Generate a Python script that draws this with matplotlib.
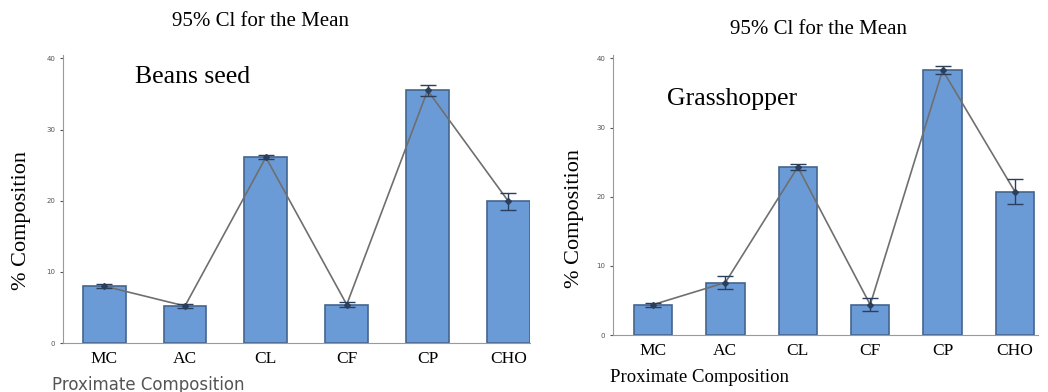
import matplotlib
matplotlib.use("Agg")
import matplotlib.pyplot as plt

categories = ["MC", "AC", "CL", "CF", "CP", "CHO"]

beans_mean = [8.0, 5.2, 26.1, 5.4, 35.5, 19.9]
beans_ci = [0.3, 0.3, 0.3, 0.3, 0.8, 1.2]

hopper_mean = [4.4, 7.6, 24.3, 4.4, 38.3, 20.7]
hopper_ci = [0.3, 1.0, 0.4, 0.9, 0.6, 1.8]

bar_color = "#6b9bd6"
edge_color = "#44658f"
serif = "Liberation Serif"

W, H = 1048, 392
fig = plt.figure(figsize=(10.48, 3.92), dpi=100)


def draw(ax, means, ci, xlim):
    x = range(len(categories))
    ax.bar(x, means, width=0.53, color=bar_color, edgecolor=edge_color, linewidth=1.2, zorder=2)
    ax.plot(x, means, color="#6f6f6f", linewidth=1.2, zorder=3)
    ax.errorbar(x, means, yerr=ci, fmt="D", markersize=3, color="#2b3f5c",
                ecolor="#2b3f5c", elinewidth=1, capsize=6, capthick=1, zorder=4)
    ax.set_xlim(*xlim)
    ax.set_ylim(0, 40.5)
    ax.set_yticks([0, 10, 20, 30, 40])
    ax.set_xticks(list(x))
    ax.set_xticklabels(categories, fontfamily=serif, fontsize=12.5)
    ax.tick_params(axis="y", labelsize=5, colors="#555555", length=2)
    ax.tick_params(axis="x", length=0, pad=6)
    for s in ["top", "right"]:
        ax.spines[s].set_visible(False)
    for s in ["left", "bottom"]:
        ax.spines[s].set_color("#9a9a9a")


# left panel: beans seed
ax1 = fig.add_axes([0.060, 0.125, 0.446, 0.735])
draw(ax1, beans_mean, beans_ci, (-0.51, 5.27))
ax1.text(0.154, 0.903, "Beans seed", transform=ax1.transAxes, fontfamily=serif,
         fontsize=18.5, va="baseline")
fig.text(261 / W, 1 - 22 / H, "95% Cl for the Mean", fontfamily=serif, fontsize=15,
         ha="center", va="center")
fig.text(22 / W, 1 - 220 / H, "% Composition", fontfamily=serif, fontsize=16,
         rotation=90, ha="center", va="center")
fig.text(52 / W, 1 - 385 / H, "Proximate Composition", fontfamily="DejaVu Sans",
         fontsize=12, color="#555555", ha="left", va="center")

# right panel: grasshopper
ax2 = fig.add_axes([0.585, 0.145, 0.405, 0.715])
draw(ax2, hopper_mean, hopper_ci, (-0.55, 5.31))
ax2.text(0.127, 0.82, "Grasshopper", transform=ax2.transAxes, fontfamily=serif,
         fontsize=18.5, va="baseline")
fig.text(819 / W, 1 - 30 / H, "95% Cl for the Mean", fontfamily=serif, fontsize=15,
         ha="center", va="center")
fig.text(574 / W, 1 - 219 / H, "% Composition", fontfamily=serif, fontsize=16,
         rotation=90, ha="center", va="center")
fig.text(610 / W, 1 - 378 / H, "Proximate Composition", fontfamily=serif,
         fontsize=13.5, ha="left", va="center")

fig.savefig("out.png", dpi=100)
